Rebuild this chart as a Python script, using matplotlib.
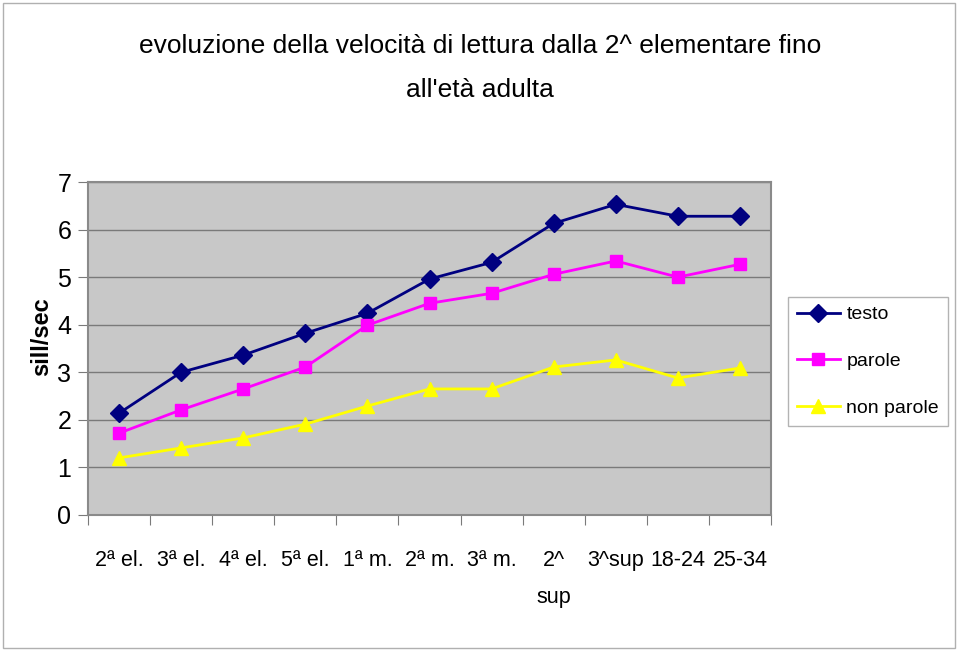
import matplotlib
matplotlib.use("Agg")
import matplotlib.pyplot as plt
from matplotlib import font_manager as fm
import numpy as np

categories = ["2ª el.", "3ª el.", "4ª el.", "5ª el.", "1ª m.", "2ª m.", "3ª m.", "2^\nsup", "3^sup", "18-24", "25-34"]
testo = [2.14, 3.0, 3.36, 3.82, 4.24, 4.96, 5.31, 6.13, 6.53, 6.28, 6.28]
parole = [1.72, 2.21, 2.65, 3.11, 3.99, 4.45, 4.66, 5.06, 5.34, 5.0, 5.27]
non_parole = [1.20, 1.41, 1.62, 1.91, 2.29, 2.65, 2.65, 3.11, 3.26, 2.88, 3.09]
yticks = [0, 1, 2, 3, 4, 5, 6, 7]

names = {f.name for f in fm.fontManager.ttflist}
fam = "Liberation Sans Narrow" if "Liberation Sans Narrow" in names else "Liberation Sans"
plt.rcParams['font.family'] = [fam, 'DejaVu Sans']

W, H = 959, 651
fig = plt.figure(figsize=(W/100, H/100), dpi=100)
fig.patch.set_facecolor('white')
fig.add_artist(plt.Rectangle((3/W, 3/H), 952/W, 645/H, transform=fig.transFigure,
                             fill=False, edgecolor='#b0b0b0', lw=1))

ax = fig.add_axes([88/W, (H-515)/H, (771-88)/W, (515-182)/H])
ax.set_facecolor('#c8c8c8')
x = np.arange(len(categories))
ax.set_xlim(-0.5, len(categories)-0.5)
ax.set_ylim(0, 7)
ax.set_yticks(yticks)
ax.set_yticklabels([str(v) for v in yticks], fontsize=18)
ax.yaxis.grid(True, color='#7a7a7a', lw=1)
ax.set_axisbelow(True)
ax.set_xticks(np.arange(len(categories)+1)-0.5)
ax.set_xticklabels([])
ax.tick_params(axis='x', length=7, color='#7a7a7a', direction='out')
ax.tick_params(axis='y', length=7, color='#7a7a7a', direction='out', pad=5)
for s in ['top', 'right', 'left', 'bottom']:
    ax.spines[s].set_color('#8a8a8a')
    ax.spines[s].set_linewidth(1.5)

for i, lab in enumerate(categories):
    ax.annotate(lab, xy=(i, 0), xycoords=('data', 'axes fraction'),
                xytext=(0, -25), textcoords='offset points', ha='center', va='top',
                fontsize=15.5, linespacing=2.0)

ax.plot(x, testo, color='#000080', marker='D', markersize=9, lw=2, label='testo')
ax.plot(x, parole, color='#ff00ff', marker='s', markersize=9, lw=2, label='parole')
ax.plot(x, non_parole, color='#ffff00', marker='^', markersize=10, lw=2, label='non parole')

fig.text(42/W, (H-337)/H, "sill/sec", rotation=90, ha='center', va='center',
         fontsize=17, fontweight='bold')

fig.text(480/W, (H-46)/H, "evoluzione della velocità di lettura dalla 2^ elementare fino",
         ha='center', va='center', fontsize=19)
fig.text(480/W, (H-90)/H, "all'età adulta", ha='center', va='center', fontsize=19)

leg = fig.legend(loc='upper left', bbox_to_anchor=(788/W, (H-297)/H), fontsize=14,
                 frameon=True, fancybox=False, edgecolor='#a0a0a0', handlelength=2.2,
                 borderpad=0.45, labelspacing=1.5, handletextpad=0.35, borderaxespad=0)
leg.get_frame().set_linewidth(1)

fig.savefig('out.png', dpi=100)
